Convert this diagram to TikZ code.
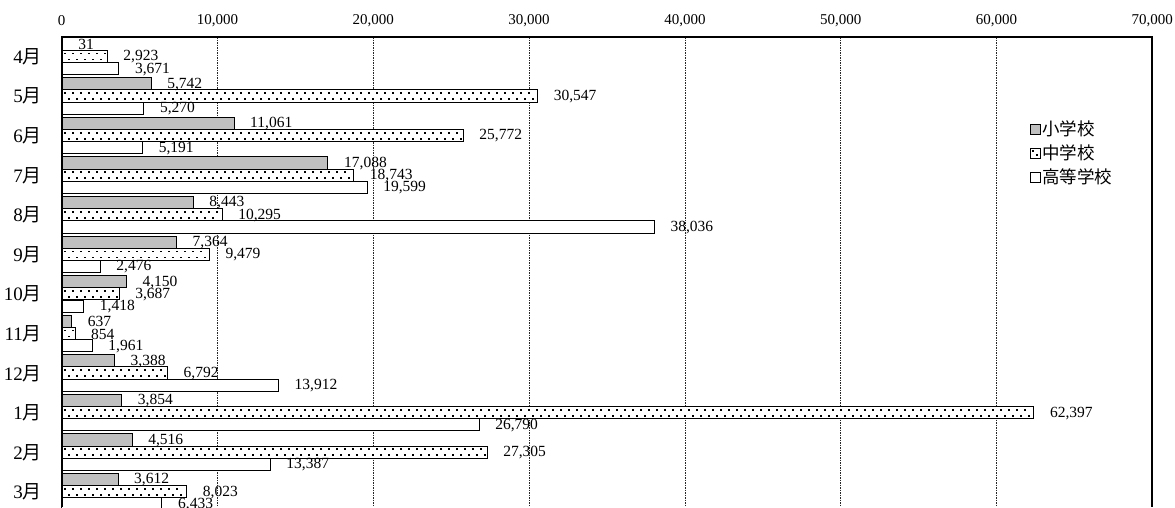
\documentclass[tikz,border=0pt]{standalone}
\usepackage{fontspec}
\usepackage{xcolor}
\setmainfont{Liberation Serif}
\newfontfamily\cjk{Noto Sans CJK JP}

\definecolor{elemgray}{RGB}{192,192,192}

\pgfkeys{/pgf/number format/.cd, 1000 sep={,}, assume math mode=true}

% month / elementary / middle / high
\def\schooldata{4/31/2923/3671, 5/5742/30547/5270, 6/11061/25772/5191,
  7/17088/18743/19599, 8/8443/10295/38036, 9/7364/9479/2476,
  10/4150/3687/1418, 11/637/854/1961, 12/3388/6792/13912,
  1/3854/62397/26790, 2/4516/27305/13387, 3/3612/8023/6433}

% value -> x position
\newcommand{\barx}[1]{\fpeval{61.7+#1*0.01558}}

\tikzset{
  gridline/.style={line width=0.6pt, black!85, dash pattern=on 1.5pt off 1pt},
  frameline/.style={line width=2pt},
  elembar/.style={draw, line width=0.9pt, fill=elemgray},
  midbar/.style={draw, line width=1pt, fill=white},
  middot/.style={fill=black},
  highbar/.style={draw, line width=0.9pt, fill=white},
  ticklabel/.style={inner sep=0pt, font=\fontsize{15}{15}\selectfont},
  vallabel/.style={anchor=west, inner sep=0pt, font=\fontsize{15.5}{15.5}\selectfont},
  monthlabel/.style={anchor=east, inner sep=0pt, font=\fontsize{19}{19}\selectfont},
  legendlabel/.style={anchor=west, inner sep=0pt, font=\cjk\fontsize{17.5}{17.5}\selectfont}
}

\begin{document}
\begin{tikzpicture}[x=1pt, y=-1pt]
  \useasboundingbox (0,0) rectangle (1175,507);

  % Grid and axis labels
  \foreach \k in {1,...,6}
    \draw[gridline] ({61.7+155.8*\k},37) -- ({61.7+155.8*\k},507);
  \foreach \k/\t in {0/0, 1/{10,000}, 2/{20,000}, 3/{30,000}, 4/{40,000}, 5/{50,000}, 6/{60,000}, 7/{70,000}}
    \node[ticklabel] (tick\k) at ({61.7+155.8*\k},21) {\t};

  % Bars
  \foreach \m/\a/\b/\c [count=\g from 0] in \schooldata {
    \pgfmathsetmacro\ytop{38.1+39.575*\g}
    \draw[elembar] (61.7,\ytop) rectangle (\barx{\a},\ytop+12.2);
    \draw[midbar] (61.7,\ytop+12.2) rectangle (\barx{\b},\ytop+24.4);
    \draw[highbar] (61.7,\ytop+24.4) rectangle (\barx{\c},\ytop+36.6);
    % dots of the middle-school bar
    \edef\na{\fpeval{floor((\b*0.01558-5)/8)}}
    \edef\nb{\fpeval{floor((\b*0.01558-9)/8)}}
    \foreach \d in {0,...,\na}
      \fill[middot] ({64.2+8*\d},\ytop+14.6) rectangle +(1.7,1.7);
    \foreach \d in {0,...,\nb}
      \fill[middot] ({68.2+8*\d},\ytop+20.6) rectangle +(1.7,1.7);
  }

  % Frame
  \draw[frameline] (61.7,507) -- (61.7,37) -- (1152.3,37) -- (1152.3,507);

  % Month and value labels
  \foreach \m/\a/\b/\c [count=\g from 0] in \schooldata {
    \pgfmathsetmacro\ytop{38.1+39.575*\g}
    \node[monthlabel] (month\g) at (42,\ytop+18.6) {\m{\cjk 月}};
    \node[vallabel] (elem\g) at ({\barx{\a}+16},\ytop+6.6) {\pgfmathprintnumber{\a}};
    \node[vallabel] (mid\g) at ({\barx{\b}+16},\ytop+18.8) {\pgfmathprintnumber{\b}};
    \node[vallabel] (high\g) at ({\barx{\c}+16},\ytop+31) {\pgfmathprintnumber{\c}};
  }

  % Legend
  \draw[elembar, line width=0.8pt] (1030,124) rectangle (1040,134);
  \draw[midbar, line width=1pt] (1030,148) rectangle (1040,158);
  \fill[middot] (1031.8,149.8) rectangle +(2,2);
  \fill[middot] (1036.2,154.2) rectangle +(2,2);
  \draw[highbar, line width=0.8pt] (1030,172) rectangle (1040,182);
  \node[legendlabel] (legelem) at (1042,129) {小学校};
  \node[legendlabel] (legmid) at (1042,153) {中学校};
  \node[legendlabel] (leghigh) at (1042,177) {高等学校};
\end{tikzpicture}
\end{document}
